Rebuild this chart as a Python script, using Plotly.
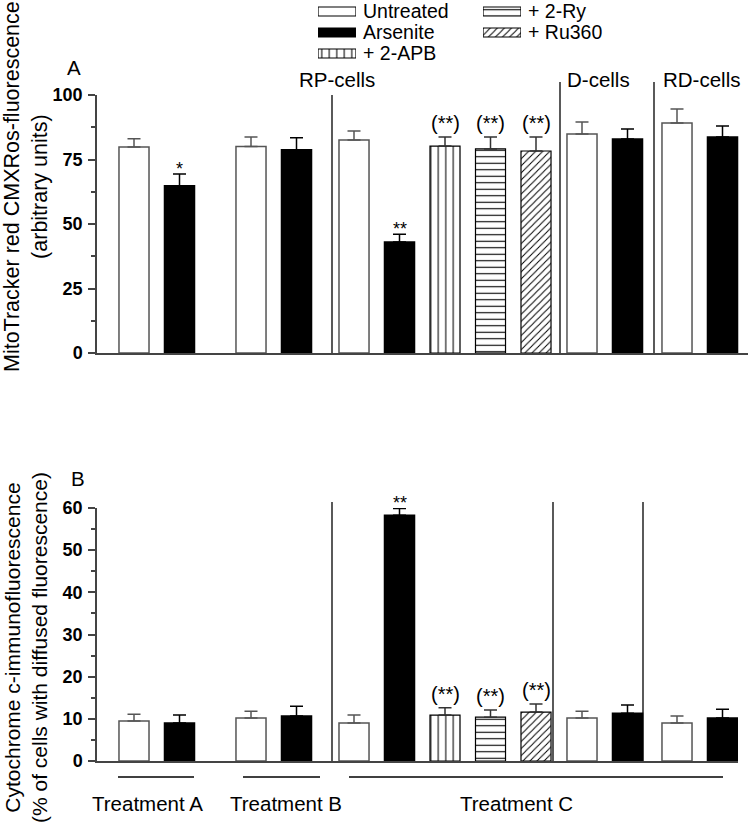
import plotly.graph_objects as go

# ---------------- data ----------------
groups = ["Treatment A", "Treatment B", "RP-cells", "D-cells", "RD-cells"]
group_sizes = [2, 2, 5, 2, 2]
conditions = ["Untreated", "Arsenite", "Untreated", "Arsenite",
              "Untreated", "Arsenite", "+ 2-APB", "+ 2-Ry", "+ Ru360",
              "Untreated", "Arsenite", "Untreated", "Arsenite"]
mito_mean = [79.8, 64.8, 80.0, 78.8, 82.6, 43.0, 80.2, 79.1, 78.3, 84.9, 82.9, 89.1, 83.7]
mito_sem = [3.2, 4.6, 3.7, 4.6, 3.4, 3.0, 3.5, 4.6, 5.4, 4.6, 3.9, 5.5, 4.3]
cyto_mean = [9.5, 9.0, 10.2, 10.7, 9.0, 58.3, 10.9, 10.4, 11.6, 10.2, 11.3, 9.0, 10.2]
cyto_sem = [1.6, 1.9, 1.6, 2.3, 1.9, 1.6, 1.7, 1.7, 1.9, 1.6, 2.0, 1.7, 2.1]
mito_sig = ["", "*", "", "", "", "**", "(**)", "(**)", "(**)", "", "", "", ""]
cyto_sig = ["", "", "", "", "", "**", "(**)", "(**)", "(**)", "", "", "", ""]
legend_col1 = ["Untreated", "Arsenite", "+ 2-APB"]
legend_col2 = ["+ 2-Ry", "+ Ru360"]
treatment_labels = ["Treatment A", "Treatment B", "Treatment C"]
cell_labels = ["RP-cells", "D-cells", "RD-cells"]
title_a = "MitoTracker red CMXRos-fluorescence<br>(arbitrary units)"
title_b = "Cytochrome c-immunofluorescence<br>(% of cells with diffused fluorescence)"

# ---------------- layout constants ----------------
W, H = 750, 826
SLOT = 45.5                      # px per bar slot
FONT = "Liberation Sans, Arial, sans-serif"
AX = "#444444"


def ux(p):          # page px -> x units
    return (p - 97) / SLOT


def py(p):          # page px (from top) -> paper y
    return 1 - p / H


group_start = [ux(134), ux(251), ux(354), ux(582), ux(677)]
xpos = []
for s, n in zip(group_start, group_sizes):
    xpos += [s + i for i in range(n)]

styles = {
    "Untreated": dict(color="white", line=dict(color="#555555", width=1.5), err="#555555"),
    "Arsenite": dict(color="black", line=dict(color="black", width=1.5), err="black"),
    "+ 2-APB": dict(color="white", line=dict(color="black", width=1.2), err="#333333",
                    pattern=dict(shape="|", size=7.5, solidity=0.14, fgcolor="black", bgcolor="white")),
    "+ 2-Ry": dict(color="white", line=dict(color="black", width=1.2), err="#333333",
                   pattern=dict(shape="-", size=6.5, solidity=0.17, fgcolor="black", bgcolor="white")),
    "+ Ru360": dict(color="white", line=dict(color="black", width=1.2), err="#333333",
                    pattern=dict(shape="/", size=5, solidity=0.2, fgcolor="black", bgcolor="white")),
}


def marker_for(cond):
    st = styles[cond]
    m = dict(color=st["color"], line=st["line"])
    if "pattern" in st:
        m["pattern"] = st["pattern"]
    return m


fig = go.Figure()

panels = [("x", "y", mito_mean, mito_sem), ("x2", "y2", cyto_mean, cyto_sem)]
for xa, ya, means, sems in panels:
    for cond in styles:
        idx = [i for i, c in enumerate(conditions) if c == cond]
        fig.add_trace(go.Bar(
            x=[xpos[i] for i in idx], y=[means[i] for i in idx],
            width=0.66, xaxis=xa, yaxis=ya, name=cond, showlegend=False,
            marker=marker_for(cond), cliponaxis=False,
            error_y=dict(type="data", symmetric=False,
                         array=[sems[i] for i in idx], arrayminus=[0] * len(idx),
                         color=styles[cond]["err"], thickness=1.5, width=6.5),
        ))

# legend swatches as two tiny horizontal-bar subplots
ROW0, ROWGAP = 11.5, 21
for names, xa, ya in [(legend_col1, "x3", "y3"), (legend_col2, "x4", "y4")]:
    for nm in names:
        fig.add_trace(go.Bar(
            x=[1], y=[nm], orientation="h", width=9 / ROWGAP, base=0,
            xaxis=xa, yaxis=ya, showlegend=False, cliponaxis=False,
            marker=dict(color=styles[nm]["color"], line=dict(color="black", width=1.2),
                        pattern=styles[nm].get("pattern", None)),
            hoverinfo="skip",
        ))

yaxis_common = dict(showline=True, linecolor=AX, linewidth=1.5, ticks="outside",
                    ticklen=7, tickwidth=1.5, tickcolor=AX, showgrid=False, zeroline=False,
                    tickfont=dict(family=FONT, size=18, color="black", weight="bold"),
                    ticklabelstandoff=2, automargin=False)
xaxis_common = dict(showline=True, linecolor=AX, linewidth=1.5, ticks="",
                    showticklabels=False, showgrid=False, zeroline=False, automargin=False)

leg_range = [(64 - ROW0) / ROWGAP, -ROW0 / ROWGAP]
leg_axis = dict(domain=[py(64), 1], type="category", range=leg_range, side="right",
                showline=False, ticks="", showgrid=False, zeroline=False,
                ticklabelstandoff=6, automargin=False,
                tickfont=dict(family=FONT, size=19.5, color="black"))
fig.update_layout(
    template="none",
    width=W, height=H, margin=dict(l=0, r=0, t=0, b=0, pad=0, autoexpand=False),
    plot_bgcolor="white", paper_bgcolor="white", showlegend=False,
    barmode="overlay", font=dict(family=FONT, color="black"),
    xaxis=dict(domain=[97 / W, 748 / W], range=[0, ux(748)], anchor="y", **xaxis_common),
    yaxis=dict(domain=[py(353), py(95)], range=[0, 100], anchor="x",
               tickmode="linear", tick0=0, dtick=25,
               minor=dict(dtick=12.5, ticks="outside", ticklen=4, tickwidth=1.5, tickcolor=AX),
               **yaxis_common),
    xaxis2=dict(domain=[97 / W, 738 / W], range=[0, ux(738)], anchor="y2", **xaxis_common),
    yaxis2=dict(domain=[py(761), py(508)], range=[0, 60], anchor="x2",
                tickmode="linear", tick0=0, dtick=10,
                minor=dict(dtick=5, ticks="outside", ticklen=4, tickwidth=1.5, tickcolor=AX),
                **yaxis_common),
    xaxis3=dict(domain=[318 / W, 356 / W], range=[0, 1], visible=False, anchor="y3",
                automargin=False),
    yaxis3=dict(categoryarray=legend_col1, tickmode="array", tickvals=legend_col1,
                anchor="x3", **leg_axis),
    xaxis4=dict(domain=[483 / W, 521 / W], range=[0, 1], visible=False, anchor="y4",
                automargin=False),
    yaxis4=dict(categoryarray=legend_col2, tickmode="array", tickvals=legend_col2,
                anchor="x4", **leg_axis),
)

# dividers between cell types
shapes = []
for p, top in [(332, 1.0), (560, 1.05), (654, 1.05)]:
    shapes.append(dict(type="line", xref="x", yref="y domain", x0=ux(p), x1=ux(p),
                       y0=0, y1=top, line=dict(color="black", width=1.3)))
for p in [332, 553, 643]:
    shapes.append(dict(type="line", xref="x2", yref="y2 domain", x0=ux(p), x1=ux(p),
                       y0=0, y1=1.024, line=dict(color="black", width=1.3)))
# treatment underlines
treat_lines = [(118, 194), (243, 320), (349, 723)]
for a, b in treat_lines:
    shapes.append(dict(type="line", xref="x2", yref="paper", x0=ux(a), x1=ux(b),
                       y0=py(777), y1=py(777), line=dict(color="black", width=1.3)))
fig.update_layout(shapes=shapes)

ann = []
for lbl, p in zip(treatment_labels, [147, 286, 516]):
    ann.append(dict(text=lbl, xref="x2", yref="paper", x=ux(p), y=py(803),
                    xanchor="center", yanchor="middle",
                    showarrow=False, font=dict(size=20.5)))
for lbl, p in zip(cell_labels, [337, 598, 701]):
    ann.append(dict(text=lbl, xref="x", yref="paper", x=ux(p), y=py(79),
                    xanchor="center", yanchor="middle",
                    showarrow=False, font=dict(size=20.5)))
ann.append(dict(text="A", xref="paper", yref="paper", x=74 / W, y=py(68),
                xanchor="center", yanchor="middle", showarrow=False, font=dict(size=20.5)))
ann.append(dict(text="B", xref="paper", yref="paper", x=78 / W, y=py(478),
                xanchor="center", yanchor="middle", showarrow=False, font=dict(size=20.5)))
ann.append(dict(text=title_a, xref="paper", yref="paper", x=26 / W, y=py(187),
                xanchor="center", yanchor="middle", borderpad=0,
                textangle=-90, showarrow=False, font=dict(size=21.5)))
ann.append(dict(text=title_b, xref="paper", yref="paper", x=26 / W, y=py(648),
                xanchor="center", yanchor="middle", borderpad=0,
                textangle=-90, showarrow=False, font=dict(size=21)))

for xa, ya, means, sems, sigs in [("x", "y", mito_mean, mito_sem, mito_sig),
                                  ("x2", "y2", cyto_mean, cyto_sem, cyto_sig)]:
    for i, s in enumerate(sigs):
        if not s:
            continue
        paren = s.startswith("(")
        ann.append(dict(text=s, xref=xa, yref=ya, x=xpos[i], y=means[i] + sems[i],
                        xanchor="center", yanchor="bottom", showarrow=False,
                        yshift=1 if paren else -7,
                        font=dict(size=20 if paren else 18)))
fig.update_layout(annotations=ann)

# the page's default 8px body margin would shift the figure; remove it
fig.write_html("out.html",
               config={"displayModeBar": False},
               post_script="document.body.style.margin='0';"
                           "document.body.style.overflow='hidden';")
